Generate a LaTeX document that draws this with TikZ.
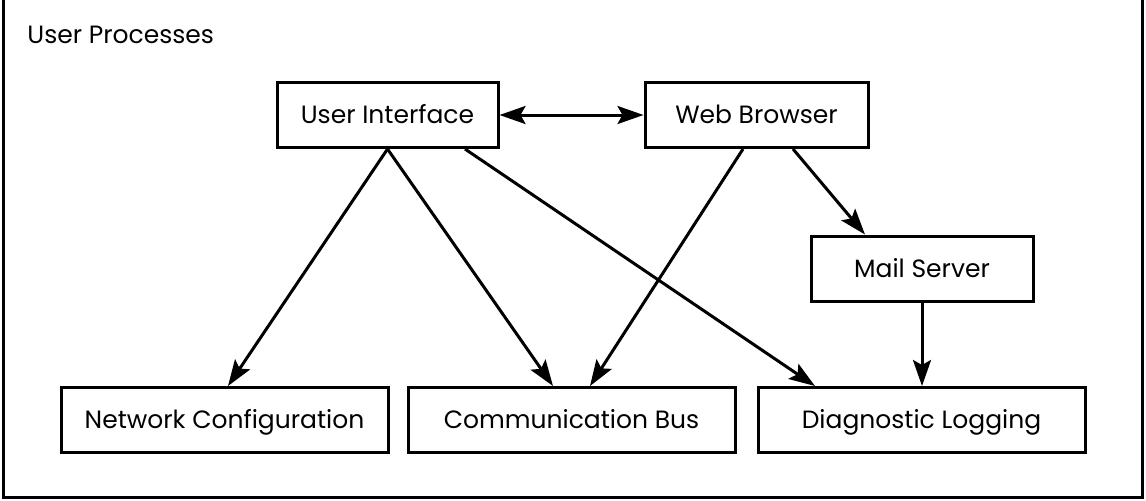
\documentclass[tikz,border=0pt]{standalone}
\usepackage{fontspec}
\setmainfont{Poppins}
\usetikzlibrary{arrows.meta}
\begin{document}
\begin{tikzpicture}[x=0.5pt,y=-0.5pt,
  tip/.tip={Stealth[length=13pt,width=9pt,inset=2.5pt]},
  box/.style={draw=black,line width=1.5pt,minimum width=163.5pt,minimum height=32.5pt,
    inner sep=0pt,text height=8.75pt,text depth=0pt,font=\fontsize{12.5}{14}\selectfont,fill=white},
  conn/.style={line width=1.5pt,-tip},
  frame/.style={line width=1.5pt}]
\useasboundingbox (0,0) rectangle (1146,500);
\draw[frame] (3,0) -- (3,497) -- (1142,497) -- (1142,0);
\node[anchor=base west,font=\fontsize{12.5}{14}\selectfont,inner sep=0pt] (title) at (27,43) {User Processes};
\node[box,minimum width=110.5pt] (ui) at (387.5,115) {User Interface};
\node[box,minimum width=111.5pt] (wb) at (756.5,115) {Web Browser};
\node[box,minimum width=111pt] (ms) at (922,268.5) {Mail Server};
\node[box] (nc) at (224.5,420) {Network Configuration};
\node[box] (cb) at (571.5,420) {Communication Bus};
\node[box] (dl) at (921.5,420) {Diagnostic Logging};
\draw[line width=1.5pt,tip-tip] (ui.east) -- (wb.west);
\draw[conn] (ui.south) -- ([xshift=1.75pt]nc.north);
\draw[conn] (ui.south) -- ([xshift=-9.25pt]cb.north);
\draw[conn] ([xshift=38.75pt]ui.south) -- ([xshift=-53.25pt]dl.north);
\draw[conn] ([xshift=-6.75pt]wb.south) -- ([xshift=9.25pt]cb.north);
\draw[conn] ([xshift=18.25pt]wb.south) -- ([xshift=-28.5pt]ms.north);
\draw[conn] (ms.south) -- (ms.south |- dl.north);
\end{tikzpicture}
\end{document}
